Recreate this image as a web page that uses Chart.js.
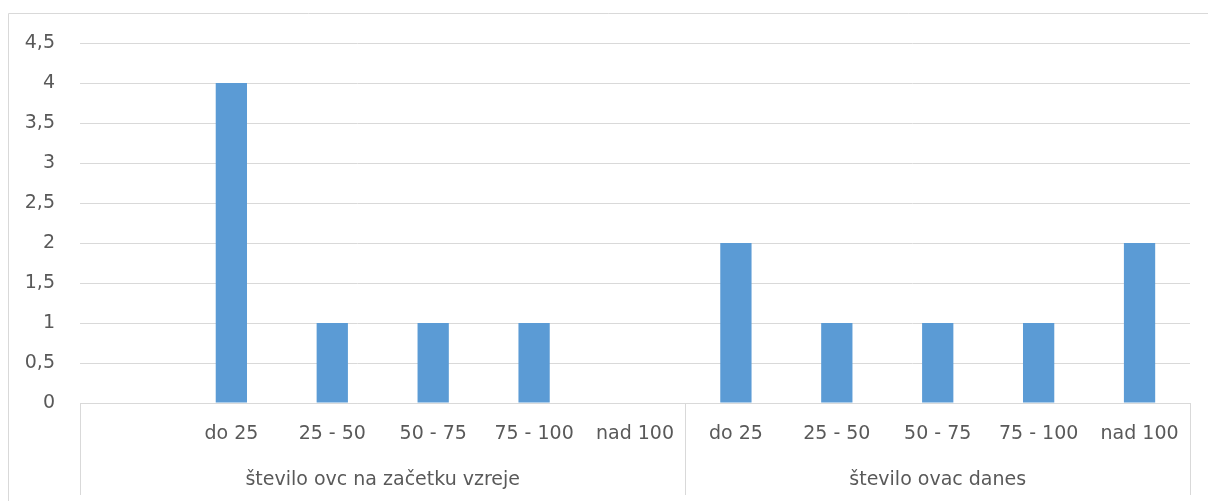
<!DOCTYPE html>
<html>
<head>
<meta charset="utf-8">
<script src="https://cdn.jsdelivr.net/npm/chart.js@4.4.0/dist/chart.umd.min.js"></script>
<style>
  html, body { margin: 0; padding: 0; background: #fff; }
  canvas { display: block; }
</style>
</head>
<body>
<canvas id="chart" width="1208" height="501"></canvas>
<script>
// data
const categories = ['', 'do 25', '25 - 50', '50 - 75', '75 - 100', 'nad 100',
                    'do 25', '25 - 50', '50 - 75', '75 - 100', 'nad 100'];
const values = [null, 4, 1, 1, 1, 0, 2, 1, 1, 1, 2];
const groupLabels = ['število ovc na začetku vzreje', 'število ovac danes'];
const groupSizes = [6, 5];

const FONT = 'DejaVu Sans';
const TEXT = '#595959';
const LINE = '#d9d9d9';

// outer frame + multi-level category axis
const groupAxis = {
  id: 'groupAxis',
  beforeDraw(chart) {
    const c = chart.ctx;
    c.save();
    c.strokeStyle = LINE;
    c.lineWidth = 1;
    c.beginPath();
    c.moveTo(8.5, 501);
    c.lineTo(8.5, 13.5);
    c.lineTo(1208, 13.5);
    c.stroke();
    c.restore();
  },
  afterDraw(chart) {
    const x = chart.scales.x;
    const c = chart.ctx;
    const half = (x.getPixelForValue(1) - x.getPixelForValue(0)) / 2;
    c.save();
    c.strokeStyle = LINE;
    c.lineWidth = 1;
    c.font = '19px "' + FONT + '"';
    c.fillStyle = TEXT;
    c.textAlign = 'center';
    c.textBaseline = 'middle';
    let start = 0;
    const edges = [x.left];
    groupSizes.forEach((n, i) => {
      const l = x.getPixelForValue(start) - half;
      const r = x.getPixelForValue(start + n - 1) + half;
      edges.push(r);
      c.fillText(groupLabels[i], (l + r) / 2, 480);
      start += n;
    });
    edges.forEach(px => {
      const xx = Math.round(px) + 0.5;
      c.beginPath();
      c.moveTo(xx, x.top);
      c.lineTo(xx, 495);
      c.stroke();
    });
    c.restore();
  }
};

new Chart(document.getElementById('chart'), {
  type: 'bar',
  data: {
    labels: categories,
    datasets: [{
      data: values,
      backgroundColor: '#5b9bd5',
      categoryPercentage: 1,
      barPercentage: 0.31
    }]
  },
  options: {
    responsive: false,
    animation: false,
    layout: { padding: { left: 8, top: 43, right: 18, bottom: 0 } },
    plugins: { legend: { display: false }, tooltip: { enabled: false } },
    scales: {
      x: {
        afterFit(s) { s.height = 98; },
        grid: { display: false, drawTicks: false },
        border: { color: LINE },
        ticks: {
          color: TEXT, font: { family: FONT, size: 19 }, padding: 20,
          maxRotation: 0, autoSkip: false
        }
      },
      y: {
        min: 0, max: 4.5,
        afterFit(s) { s.width = 72; },
        grid: { color: LINE, drawTicks: false },
        border: { display: false },
        ticks: {
          stepSize: 0.5, color: TEXT, font: { family: FONT, size: 19 }, padding: 25,
          callback: v => String(v).replace('.', ',')
        }
      }
    }
  },
  plugins: [groupAxis]
});
</script>
</body>
</html>
